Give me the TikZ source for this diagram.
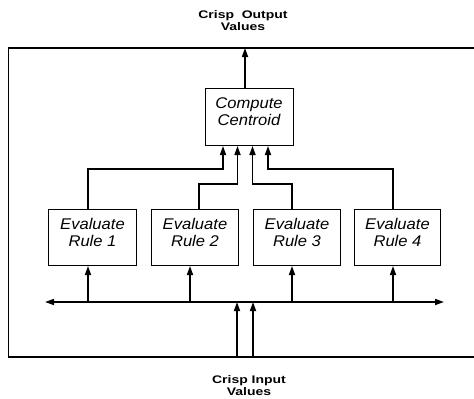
\documentclass[tikz,border=0pt]{standalone}
\usepackage{fontspec}
\setmainfont{Liberation Sans}
\newfontfamily\headfont[FakeStretch=1.27]{Liberation Sans}
\newfontfamily\boxfont[FakeStretch=1.07]{Liberation Sans}
\usetikzlibrary{arrows.meta}
\begin{document}
\begin{tikzpicture}[x=1pt,y=-1pt,
  arr/.style={line width=1.6pt,-{Triangle[length=9pt,width=6pt]}},
  busline/.style={line width=1.6pt,{Triangle[length=9pt,width=6pt]}-{Triangle[length=9pt,width=6pt]}},
  framel/.style={line width=1.3pt},
  box/.style={draw,line width=1pt,inner sep=0pt,anchor=north west,minimum height=56pt},
  btext/.style={anchor=north,align=center,inner sep=0pt,font=\boxfont\itshape\fontsize{15.5}{17}\selectfont},
  head/.style={anchor=north,align=center,inner sep=0pt,font=\headfont\bfseries\fontsize{11}{11.5}\selectfont}]
\useasboundingbox (0,0) rectangle (474,399);
% frame (open on the right)
\draw[framel] (476,48) -- (8.5,48) -- (8.5,357) -- (476,357);
% labels
\node[head] (outlbl) at (243,10.5) {Crisp\ \ Output\\Values};
\node[head] (inlbl) at (249,375.5) {Crisp Input\\Values};
% centroid box
\node[box,minimum width=88pt,minimum height=57pt] (cc) at (205,88) {};
\node[btext] (cct) at (249,97) {Compute\\Centroid};
% rule boxes
\node[box,minimum width=88pt] (ev1) at (48,209) {};
\node[box,minimum width=87pt] (ev2) at (151,209) {};
\node[box,minimum width=87pt] (ev3) at (253,209) {};
\node[box,minimum width=86pt] (ev4) at (354,209) {};
\node[btext] (ev1t) at (ev1.north) [yshift=-9pt] {Evaluate\\Rule 1};
\node[btext] (ev2t) at (ev2.north) [yshift=-9pt] {Evaluate\\Rule 2};
\node[btext] (ev3t) at (ev3.north) [yshift=-9pt] {Evaluate\\Rule 3};
\node[btext] (ev4t) at (ev4.north) [yshift=-9pt] {Evaluate\\Rule 4};
% coordinates
\coordinate (otop) at (245,48);
\coordinate (j1) at (88,169);
\coordinate (j2) at (199,184);
\coordinate (j3) at (292,184);
\coordinate (j4) at (393,169);
\coordinate (t1) at (223,0);
\coordinate (t2) at (237.5,0);
\coordinate (t3) at (252.5,0);
\coordinate (t4) at (268,0);
\coordinate (busL) at (45,302);
\coordinate (busR) at (444,302);
\coordinate (u1) at (88,302);
\coordinate (u2) at (190,302);
\coordinate (u3) at (292,302);
\coordinate (u4) at (393,302);
\coordinate (in1) at (237,357);
\coordinate (in2) at (253,357);
% output
\draw[arr] (cc.north -| otop) -- (otop);
% rules to centroid
\draw[arr] (ev1.north -| j1) -- (j1) -| (cc.south -| t1);
\draw[arr] (ev2.north -| j2) -- (j2) -| (cc.south -| t2);
\draw[arr] (ev3.north -| j3) -- (j3) -| (cc.south -| t3);
\draw[arr] (ev4.north -| j4) -- (j4) -| (cc.south -| t4);
% bus
\draw[busline] (busL) -- (busR);
\draw[arr] (u1) -- (ev1.south -| u1);
\draw[arr] (u2) -- (ev2.south -| u2);
\draw[arr] (u3) -- (ev3.south -| u3);
\draw[arr] (u4) -- (ev4.south -| u4);
% inputs
\draw[arr] (in1) -- (in1 |- busL);
\draw[arr] (in2) -- (in2 |- busL);
\end{tikzpicture}
\end{document}
